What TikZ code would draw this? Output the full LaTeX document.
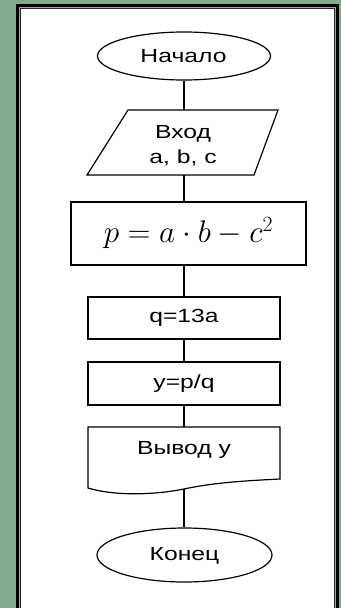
\documentclass[tikz,border=0pt]{standalone}
\usepackage{fontspec}
\usepackage{graphicx}
\usetikzlibrary{shapes.geometric}
\newfontfamily\arialf{Liberation Sans}
\definecolor{bggreen}{RGB}{126,172,140}
\definecolor{framegray}{RGB}{150,170,155}
\newcommand\widetxt[1]{\scalebox{1.3}[1]{#1}}
\tikzset{
  lbl/.style={font=\arialf\fontsize{19}{25}\selectfont, inner sep=0pt, align=center},
  shp/.style={draw=black, line width=1.2pt},
  termbox/.style={shp, ellipse, inner sep=0pt},
  procbox/.style={shp, rectangle, inner sep=0pt, minimum width=192pt, minimum height=42pt},
  conn/.style={draw=black, line width=1.1pt},
}
\begin{document}
\begin{tikzpicture}[x=1pt,y=-1pt]
\useasboundingbox (0,0) rectangle (341,608);
\clip (0,0) rectangle (341,608);
% background and frame
\fill[bggreen] (0,0) rectangle (341,608);
\fill[white] (19,7) rectangle (335,620);
\draw[black, line width=3pt] (17.5,5.8) rectangle (337,625);
\draw[framegray, line width=0.6pt] (19.4,7.6) rectangle (335.1,625);
\draw[black!85, line width=0.9pt] (20.4,8.6) rectangle (334,625);

% start
\node[termbox, minimum width=173pt, minimum height=48pt] (start) at (184,56) {};
\node[lbl] (starttxt) at (183.5,56) {\widetxt{Начало}};

% input parallelogram-like shape
\coordinate (inTop) at (184,110);
\coordinate (inBot) at (184,175);
\draw[shp] (128,110) -- (278,110) -- (254,175) -- (87,175) -- cycle;
\node[lbl] (intxt) at (183,146) {\widetxt{Вход}\\\widetxt{a, b, c}};

% formula box
\node[procbox, minimum width=235pt, minimum height=63pt] (pbox) at (188.5,233.5) {};
\node[inner sep=0pt] (ptxt) at (188.5,233) {\scalebox{1.26}{\fontsize{24}{28}\selectfont $p=a\cdot b-c^2$}};

% q box
\node[procbox] (qbox) at (184,318) {};
\node[lbl] (qtxt) at (184,318) {\widetxt{q=13a}};

% y box
\node[procbox, minimum height=43pt] (ybox) at (184,383.5) {};
\node[lbl] (ytxt) at (184,383.5) {\widetxt{y=p/q}};

% output document shape
\coordinate (outTop) at (184,427);
\coordinate (outBot) at (184,489);
\draw[shp] (88,427) -- (280,427) -- (280,479)
  .. controls (240,481) and (212,483) .. (184,489)
  .. controls (160,494) and (118,497) .. (88,488) -- cycle;
\node[lbl] (outtxt) at (184,450) {\widetxt{Вывод y}};

% end
\node[termbox, minimum width=175pt, minimum height=54pt] (end) at (184.5,555) {};
\node[lbl] (endtxt) at (184.5,556) {\widetxt{Конец}};

% connectors
\draw[conn] (start.south) -- (start.south |- inTop);
\draw[conn] (inBot) -- (inBot |- pbox.north);
\draw[conn] (pbox.south -| qbox.north) -- (qbox.north);
\draw[conn] (qbox.south) -- (ybox.north);
\draw[conn] (ybox.south) -- (outTop);
\draw[conn] (outBot) -- (end.north -| outBot);
\end{tikzpicture}
\end{document}
